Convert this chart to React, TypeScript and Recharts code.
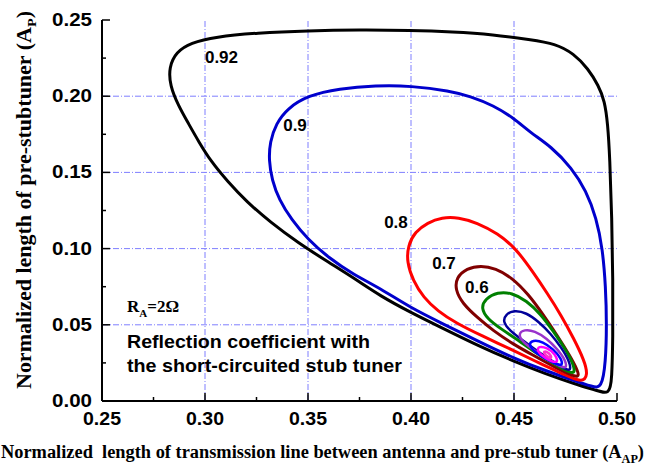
import { LineChart, Line, XAxis, YAxis, ReferenceLine, ReferenceDot } from "recharts";

const SANS = "'Liberation Sans', Arial, sans-serif";
const SERIF = "'Liberation Serif', 'Times New Roman', serif";

const xTicks = [0.25, 0.275, 0.3, 0.325, 0.35, 0.375, 0.4, 0.425, 0.45, 0.475, 0.5];
const yTicks = [0, 0.025, 0.05, 0.075, 0.1, 0.125, 0.15, 0.175, 0.2, 0.225, 0.25];
const gridX = [0.3, 0.35, 0.4, 0.45];
const gridY = [0.05, 0.1, 0.15, 0.2];

// contour points, (A_AP, A_P)
const gamma092 = [
  [0.4965, 0.004], [0.4975, 0.015], [0.498, 0.04], [0.498, 0.08], [0.4975, 0.12], [0.4965, 0.16],
  [0.4955, 0.182], [0.494, 0.197], [0.491, 0.207], [0.486, 0.218], [0.479, 0.228], [0.47, 0.2345],
  [0.458, 0.237], [0.44, 0.2405], [0.42, 0.2423], [0.4, 0.2432], [0.375, 0.2435], [0.35, 0.243],
  [0.325, 0.2415], [0.305, 0.239], [0.293, 0.235], [0.286, 0.229], [0.2825, 0.219], [0.283, 0.207],
  [0.287, 0.194], [0.292, 0.182], [0.297, 0.17], [0.303, 0.157], [0.311, 0.144], [0.32, 0.131],
  [0.332, 0.117], [0.345, 0.104], [0.36, 0.091], [0.373, 0.08], [0.385, 0.069], [0.4, 0.058],
  [0.415, 0.048], [0.433, 0.036], [0.45, 0.026], [0.465, 0.018], [0.48, 0.011], [0.49, 0.007],
];
const gamma09 = [
  [0.4925, 0.008], [0.4945, 0.025], [0.495, 0.05], [0.4945, 0.075], [0.493, 0.1], [0.49, 0.12],
  [0.485, 0.138], [0.478, 0.153], [0.468, 0.167], [0.458, 0.176], [0.45, 0.1855], [0.44, 0.194],
  [0.4286, 0.2], [0.419, 0.2035], [0.4, 0.2068], [0.383, 0.207], [0.365, 0.205], [0.35, 0.2005],
  [0.34, 0.192], [0.3345, 0.182], [0.3315, 0.17], [0.331, 0.158], [0.3325, 0.145], [0.336, 0.132],
  [0.342, 0.119], [0.35, 0.106], [0.36, 0.094], [0.372, 0.083], [0.385, 0.074], [0.4, 0.061],
  [0.415, 0.051], [0.433, 0.039], [0.45, 0.028], [0.465, 0.02], [0.48, 0.013], [0.488, 0.0095],
];
const gamma08 = [
  [0.483, 0.012], [0.475, 0.017], [0.462, 0.025], [0.45, 0.033], [0.434, 0.043], [0.422, 0.051],
  [0.413, 0.059], [0.406, 0.068], [0.401, 0.079], [0.398, 0.091], [0.3985, 0.102], [0.402, 0.111],
  [0.408, 0.117], [0.415, 0.1205], [0.423, 0.1205], [0.432, 0.117], [0.442, 0.11], [0.451, 0.1],
  [0.459, 0.085], [0.466, 0.071], [0.473, 0.056], [0.479, 0.041], [0.484, 0.027], [0.486, 0.017],
];
const gamma07 = [
  [0.482, 0.014], [0.47, 0.022], [0.458, 0.031], [0.45, 0.037], [0.44, 0.046], [0.432, 0.055],
  [0.425, 0.064], [0.4215, 0.073], [0.422, 0.081], [0.427, 0.087], [0.434, 0.089], [0.441, 0.087],
  [0.449, 0.081], [0.457, 0.07], [0.464, 0.057], [0.471, 0.043], [0.477, 0.03], [0.481, 0.02],
];
const gamma06 = [
  [0.48, 0.016], [0.47, 0.024], [0.46, 0.032], [0.452, 0.04], [0.444, 0.047], [0.437, 0.054],
  [0.434, 0.061], [0.436, 0.067], [0.442, 0.0715], [0.449, 0.071], [0.456, 0.066], [0.463, 0.057],
  [0.469, 0.046], [0.475, 0.034], [0.479, 0.024],
];
const gamma05 = [
  [0.478, 0.018], [0.47, 0.025], [0.462, 0.032], [0.455, 0.039], [0.448, 0.046], [0.4445, 0.052],
  [0.446, 0.057], [0.45, 0.0595], [0.456, 0.058], [0.462, 0.052], [0.468, 0.044], [0.473, 0.035],
  [0.477, 0.026],
];
const gamma04 = [
  [0.476, 0.02], [0.468, 0.026], [0.46, 0.033], [0.454, 0.039], [0.452, 0.044], [0.455, 0.047],
  [0.46, 0.046], [0.466, 0.041], [0.471, 0.034], [0.475, 0.027],
];
const gamma03 = [
  [0.474, 0.022], [0.466, 0.027], [0.46, 0.032], [0.457, 0.037], [0.459, 0.04], [0.464, 0.039],
  [0.469, 0.034], [0.473, 0.028],
];
const gamma02 = [
  [0.472, 0.024], [0.465, 0.028], [0.461, 0.033], [0.462, 0.036], [0.466, 0.035], [0.47, 0.031],
];
const gamma01 = [[0.469, 0.027], [0.465, 0.03], [0.464, 0.033], [0.467, 0.032]];

const levelLabels = [
  { text: "0.92", x: 0.308, y: 0.2257 },
  { text: "0.9", x: 0.3437, y: 0.181 },
  { text: "0.8", x: 0.3927, y: 0.1175 },
  { text: "0.7", x: 0.416, y: 0.0906 },
  { text: "0.6", x: 0.432, y: 0.0748 },
];

const contours = [
  { id: "g092", pts: gamma092, color: "#000000", width: 3 },
  { id: "g09", pts: gamma09, color: "#0000cc", width: 3 },
  { id: "g08", pts: gamma08, color: "#ff0000", width: 3 },
  { id: "g07", pts: gamma07, color: "#800000", width: 3 },
  { id: "g06", pts: gamma06, color: "#008000", width: 3 },
  { id: "g05", pts: gamma05, color: "#000099", width: 2.5 },
  { id: "g04", pts: gamma04, color: "#9933cc", width: 2.5 },
  { id: "g03", pts: gamma03, color: "#0000ff", width: 2.5 },
  { id: "g02", pts: gamma02, color: "#ff00ff", width: 2.5 },
  { id: "g01", pts: gamma01, color: "#ff33cc", width: 2.5 },
];

const isMajor = (v: number) => Math.round(v * 1000) % 50 === 0;

const BottomTick = (props: any) => {
  const { x, y, payload } = props;
  const major = isMajor(payload.value);
  return (
    <g>
      <line x1={x} y1={y} x2={x} y2={y - (major ? 8 : 4)} stroke="#000" strokeWidth={1.5} />
      {major && (
        <text x={x} y={y + 24} textAnchor="middle" fontFamily={SANS} fontWeight="bold" fontSize={18}
          fill="#000" textLength={38} lengthAdjust="spacingAndGlyphs">
          {payload.value.toFixed(2)}
        </text>
      )}
    </g>
  );
};

const TopTick = (props: any) => {
  const { x, y, payload } = props;
  const major = isMajor(payload.value);
  return <line x1={x} y1={y} x2={x} y2={y + (major ? 8 : 4)} stroke="#000" strokeWidth={1.5} />;
};

const LeftTick = (props: any) => {
  const { x, y, payload } = props;
  const major = isMajor(payload.value);
  return (
    <g>
      <line x1={x} y1={y} x2={x + (major ? 8 : 4)} y2={y} stroke="#000" strokeWidth={1.5} />
      {major && (
        <text x={x - 10} y={y + 6} textAnchor="end" fontFamily={SANS} fontWeight="bold" fontSize={18}
          fill="#000" textLength={40} lengthAdjust="spacingAndGlyphs">
          {payload.value.toFixed(2)}
        </text>
      )}
    </g>
  );
};

const RightTick = (props: any) => {
  const { x, y, payload } = props;
  const major = isMajor(payload.value);
  return <line x1={x} y1={y} x2={x - (major ? 8 : 4)} y2={y} stroke="#000" strokeWidth={1.5} />;
};

export default function App() {
  return (
    <div style={{ position: "absolute", left: 0, top: 0, width: 650, height: 468, background: "#fff" }}>
      <LineChart width={650} height={468} margin={{ top: 20, right: 33, bottom: 27, left: 42 }}>
        <XAxis xAxisId={0} dataKey="x" type="number" domain={[0.25, 0.5]} ticks={xTicks} interval={0}
          allowDataOverflow height={40} tickSize={0} tickMargin={0} tickLine={false}
          axisLine={{ stroke: "#000", strokeWidth: 2 }} tick={<BottomTick />} />
        <XAxis xAxisId="top" orientation="top" dataKey="x" type="number" domain={[0.25, 0.5]} ticks={xTicks}
          interval={0} allowDataOverflow height={0} tickSize={0} tickMargin={0} tickLine={false}
          axisLine={{ stroke: "#000", strokeWidth: 2 }} tick={<TopTick />} />
        <YAxis yAxisId={0} type="number" domain={[0, 0.25]} ticks={yTicks} interval={0} allowDataOverflow
          width={60} tickSize={0} tickMargin={0} tickLine={false}
          axisLine={{ stroke: "#000", strokeWidth: 2 }} tick={<LeftTick />} />
        <YAxis yAxisId="right" orientation="right" type="number" domain={[0, 0.25]} ticks={yTicks}
          interval={0} allowDataOverflow width={0} tickSize={0} tickMargin={0} tickLine={false}
          axisLine={{ stroke: "#000", strokeWidth: 2 }} tick={<RightTick />} />
        {gridX.map((v) => (
          <ReferenceLine key={"gx" + v} x={v} stroke="#7f7fff" strokeWidth={1} strokeDasharray="6 2 1 2" />
        ))}
        {gridY.map((v) => (
          <ReferenceLine key={"gy" + v} y={v} stroke="#7f7fff" strokeWidth={1} strokeDasharray="6 2 1 2" />
        ))}
        {contours.map((c) => (
          <Line key={c.id} data={c.pts.map(([x, y]) => ({ x, y }))} dataKey="y" type="basisClosed"
            stroke={c.color} strokeWidth={c.width} dot={false} activeDot={false} isAnimationActive={false} />
        ))}
        {levelLabels.map((l) => (
          <ReferenceDot key={l.text} x={l.x} y={l.y} r={0} fill="none" stroke="none"
            label={{ value: l.text, position: "center", fill: "#000", fontSize: 17, fontWeight: "bold", fontFamily: SANS }} />
        ))}
      </LineChart>
      <svg width={650} height={468} style={{ position: "absolute", left: 0, top: 0, pointerEvents: "none" }}>
        <text transform="translate(31,200) rotate(-90)" textAnchor="middle" fontFamily={SERIF} fontWeight="bold"
          fontSize={20} fill="#000" textLength={378} lengthAdjust="spacingAndGlyphs">
          Normalized length of pre-stubtuner (A<tspan fontSize={13} dy={5}>P</tspan><tspan dy={-5}>)</tspan>
        </text>
        <text x={1} y={458} fontFamily={SERIF} fontWeight="bold" fontSize={18} fill="#000"
          style={{ whiteSpace: "pre" }} textLength={643} lengthAdjust="spacingAndGlyphs">
          Normalized  length of transmission line between antenna and pre-stub tuner (A<tspan fontSize={12} dy={5}>AP</tspan><tspan dy={-5}>)</tspan>
        </text>
        <text x={127} y={312} fontFamily={SERIF} fontWeight="bold" fontSize={17} fill="#000">
          R<tspan fontSize={11} dy={5}>A</tspan><tspan dy={-5}>=2Ω</tspan>
        </text>
        <text x={127} y={348} fontFamily={SANS} fontWeight="bold" fontSize={18} fill="#000"
          textLength={243} lengthAdjust="spacingAndGlyphs">
          Reflection coefficient with
        </text>
        <text x={127} y={372} fontFamily={SANS} fontWeight="bold" fontSize={18} fill="#000"
          textLength={275} lengthAdjust="spacingAndGlyphs">
          the short-circuited stub tuner
        </text>
      </svg>
    </div>
  );
}
